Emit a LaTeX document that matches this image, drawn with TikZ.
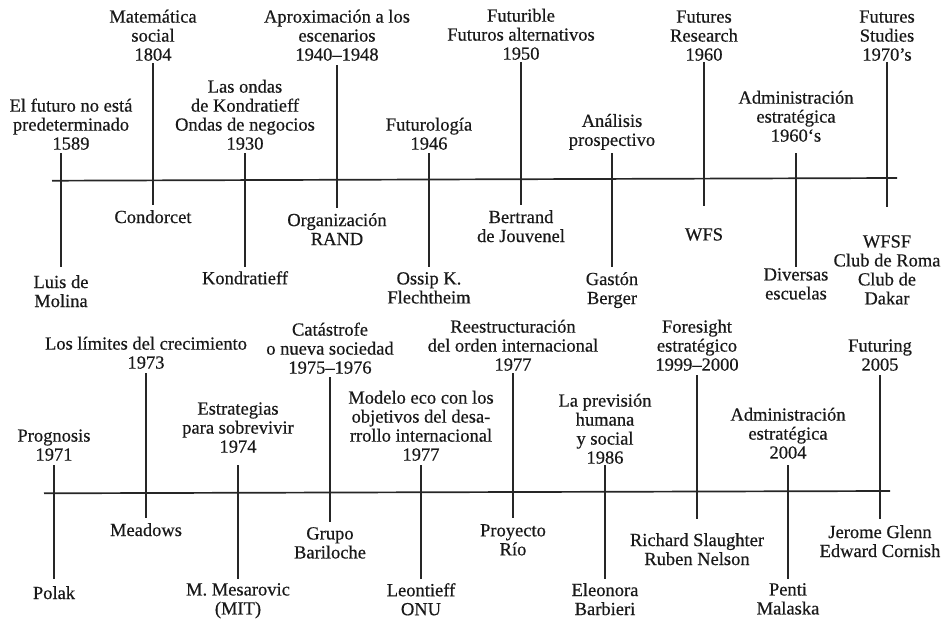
\documentclass[tikz,border=0pt]{standalone}
\usepackage{fontspec}
\setmainfont{Liberation Serif}
\newfontfamily\lblfont{Liberation Serif}[FakeBold=0.5]
\newcommand\evt[8]{%
  \coordinate (#1a) at (#2,#3);
  \coordinate (#1b) at (#2,#4);
  \node[up] (#1u) at (#2,#6) {#5};
  \node[dn] (#1d) at (#2,#8) {#7};
  \draw[tick] (#1a) -- (#1b);
}
\begin{document}
\begin{tikzpicture}[x=1pt,y=-1pt,
  lbl/.style={font=\lblfont\fontsize{18.5}{19}\selectfont, align=center, inner sep=0pt, text=black!90},
  up/.style={lbl, anchor=south},
  dn/.style={lbl, anchor=north},
  tick/.style={line width=1.7pt, draw=black!85},
  axis/.style={line width=1.7pt, draw=black!85}]
\useasboundingbox (0,0) rectangle (947,621);
% top timeline
\coordinate (axAl) at (52,180.7);
\coordinate (axAr) at (897,178);
\draw[axis] (axAl) -- (axAr);
\coordinate (a1a) at (61,153);
\coordinate (a1b) at (61,267);
\node[up] (a1u) at (71,150) {El futuro no está\\predeterminado\\1589};
\node[dn] (a1d) at (61,275) {Luis de\\Molina};
\draw[tick] (a1a) -- (a1b);
\evt{a2}{153}{63}{205}{Matemática\\social\\1804}{61}{Condorcet}{210}
\evt{a3}{245}{153}{267}{Las ondas\\de Kondratieff\\Ondas de negocios\\1930}{150}{Kondratieff}{271}
\evt{a4}{337}{65}{208}{Aproximación a los\\escenarios\\1940–1948}{61}{Organización\\RAND}{213}
\evt{a5}{429}{153}{267}{Futurología\\1946}{150}{Ossip K.\\Flechtheim}{272}
\evt{a6}{521}{62}{205}{Futurible\\Futuros alternativos\\1950}{60}{Bertrand\\de Jouvenel}{210}
\evt{a7}{612}{153}{267}{Análisis\\prospectivo}{150}{Gastón\\Berger}{272}
\evt{a8}{704}{62}{206}{Futures\\Research\\1960}{61}{WFS}{228}
\evt{a9}{796}{153}{267}{Administración\\estratégica\\1960‘s}{142}{Diversas\\escuelas}{268}
\evt{a10}{887}{62}{207}{Futures\\Studies\\1970’s}{61}{WFSF\\Club de Roma\\Club de\\Dakar}{235}
% bottom timeline
\coordinate (axBl) at (44,493.3);
\coordinate (axBr) at (890,491);
\draw[axis] (axBl) -- (axBr);
\evt{b1}{54}{465}{579}{Prognosis\\1971}{461}{Polak}{586}
\evt{b2}{146}{373}{518}{Los límites del crecimiento\\1973}{369}{Meadows}{523}
\evt{b3}{238}{465}{579}{Estrategias\\para sobrevivir\\1974}{453}{M. Mesarovic\\(MIT)}{583}
\evt{b4}{330}{377}{522}{Catástrofe\\o nueva sociedad\\1975–1976}{374}{Grupo\\Bariloche}{527}
\evt{b5}{421}{465}{579}{Modelo eco con los\\objetivos del desa-\\rrollo internacional\\1977}{461}{Leontieff\\ONU}{583}
\evt{b6}{513}{373}{518}{Reestructuración\\del orden internacional\\1977}{371}{Proyecto\\Río}{524}
\evt{b7}{605}{465}{579}{La previsión\\humana\\y social\\1986}{464}{Eleonora\\Barbieri}{583}
\evt{b8}{697}{375}{519}{Foresight\\estratégico\\1999–2000}{371}{Richard Slaughter\\Ruben Nelson}{533}
\evt{b9}{788}{465}{579}{Administración\\estratégica\\2004}{459}{Penti\\Malaska}{583}
\evt{b10}{880}{375}{519}{Futuring\\2005}{371}{Jerome Glenn\\Edward Cornish}{525}
\end{tikzpicture}
\end{document}
